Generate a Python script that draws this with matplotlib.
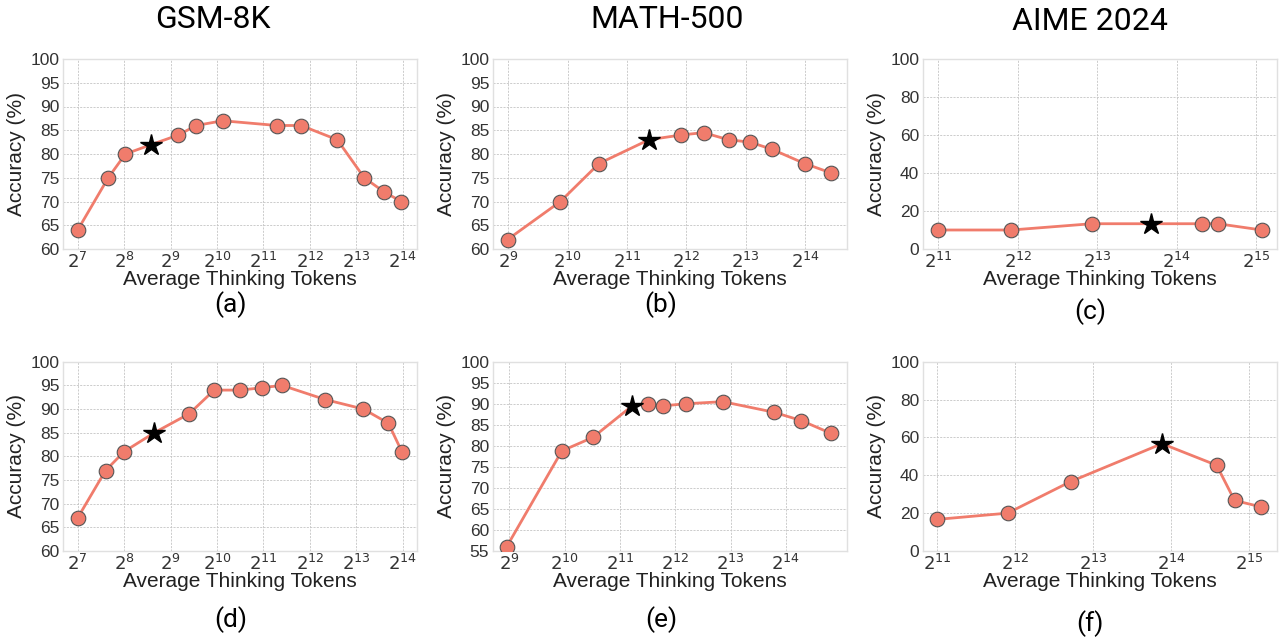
import matplotlib
matplotlib.use("Agg")
import matplotlib.pyplot as plt

# average thinking tokens / accuracy (%) per panel; index 3 is the starred point
gsm_tokens_a = [128, 202, 261, 385, 576, 750, 1113, 2505, 3590, 6165, 9216, 12417, 16046]
gsm_acc_a = [64, 75, 80, 82, 84, 86, 87, 86, 86, 83, 75, 72, 70]

math_tokens_b = [509, 942, 1479, 2647, 3848, 5009, 6701, 8602, 11116, 16270, 22234]
math_acc_b = [62, 70, 78, 83, 84, 84.5, 83, 82.5, 81, 78, 76]

aime_tokens_c = [2048, 3875, 7803, 13124, 20447, 23495, 34407]
aime_acc_c = [10, 10, 13.3, 13.3, 13.3, 13.3, 10]

gsm_tokens_d = [128, 194, 256, 402, 676, 982, 1448, 2006, 2703, 5149, 9093, 13214, 16160]
gsm_acc_d = [67, 77, 81, 85, 89, 94, 94, 94.5, 95, 92, 90, 87, 81]

math_tokens_e = [495, 989, 1458, 2386, 2916, 3492, 4675, 7434, 14066, 19895, 28722]
math_acc_e = [56, 78.8, 82, 89.5, 90, 89.5, 90, 90.5, 88, 86, 83]

aime_tokens_f = [2048, 3822, 6701, 15076, 24489, 28722, 36372]
aime_acc_f = [16.7, 20, 36.7, 56.7, 45.3, 26.7, 23.3]

star_idx = 3

titles = ["GSM-8K", "MATH-500", "AIME 2024"]
panel_labels = ["(a)", "(b)", "(c)", "(d)", "(e)", "(f)"]

LINE_COLOR = "#F07C6C"
TEXT_FONT = ["Liberation Sans", "DejaVu Sans"]
TITLE_FONT = ["Roboto", "DejaVu Sans"]

panels = [
    (gsm_tokens_a, gsm_acc_a, range(7, 15), (2**6.69, 2**14.30), (60, 100), range(60, 101, 5)),
    (math_tokens_b, math_acc_b, range(9, 15), (2**8.75, 2**14.70), (60, 100), range(60, 101, 5)),
    (aime_tokens_c, aime_acc_c, range(11, 16), (2**10.81, 2**15.26), (0, 100), range(0, 101, 20)),
    (gsm_tokens_d, gsm_acc_d, range(7, 15), (2**6.69, 2**14.30), (60, 100), range(60, 101, 5)),
    (math_tokens_e, math_acc_e, range(9, 15), (2**8.71, 2**15.10), (55, 100), range(55, 101, 5)),
    (aime_tokens_f, aime_acc_f, range(11, 16), (2**10.82, 2**15.35), (0, 100), range(0, 101, 20)),
]

W, H = 1287, 639
fig = plt.figure(figsize=(W / 100, H / 100), dpi=100)

lefts = [63.3, 493.3, 923.3]
tops = [59, 361.7]
bottoms = [249, 551]
width = 353.4

for i, (xs, ys, exps, xlim, ylim, yt) in enumerate(panels):
    r, c = divmod(i, 3)
    ax = fig.add_axes([lefts[c] / W, 1 - bottoms[r] / H, width / W, (bottoms[r] - tops[r]) / H])
    ax.set_xscale("log", base=2)

    ax.plot(xs, ys, color=LINE_COLOR, lw=2.0, zorder=2)
    rest = [k for k in range(len(xs)) if k != star_idx]
    ax.plot([xs[k] for k in rest], [ys[k] for k in rest], "o", ms=10.5,
            mfc=LINE_COLOR, mec="#555555", mew=0.8, zorder=3)
    ax.plot(xs[star_idx], ys[star_idx], "*", ms=16, color="black", zorder=4)

    ax.set_xlim(*xlim)
    ax.set_ylim(*ylim)
    ax.set_xticks([2**e for e in exps])
    ax.set_xticklabels([f"$2^{{{e}}}$" for e in exps])
    ax.minorticks_off()
    ax.set_yticks(list(yt))

    ax.grid(True, ls=(0, (2.5, 1.5)), lw=0.6, color="#c4c4c4")
    ax.set_axisbelow(True)
    for s in ax.spines.values():
        s.set_color("#e0e0e0")
        s.set_linewidth(1.0)
    ax.tick_params(length=0, pad=3, labelsize=12.5, colors="#333333")
    for lab in ax.get_yticklabels():
        lab.set_family(TEXT_FONT)
    ax.tick_params(axis="x", pad=2, labelsize=13)

    ax.set_xlabel("Average Thinking Tokens", fontsize=15, family=TEXT_FONT,
                  color="#222222", labelpad=-1)
    ax.set_ylabel("Accuracy (%)", fontsize=15, family=TEXT_FONT,
                  color="#222222", labelpad=3)

title_x = [213, 667, 1090]
title_y = [19, 19, 22]
for t, tx, ty in zip(titles, title_x, title_y):
    fig.text(tx / W, 1 - ty / H, t, ha="center", va="center", fontsize=23, family=TITLE_FONT)

label_x = [231, 661, 1090, 231, 661, 1090]
label_y = [305, 305, 312, 620, 620, 624]
for t, lx, ly in zip(panel_labels, label_x, label_y):
    fig.text(lx / W, 1 - ly / H, t, ha="center", va="center", fontsize=19, family=TITLE_FONT)

fig.savefig("out.png", dpi=100)
